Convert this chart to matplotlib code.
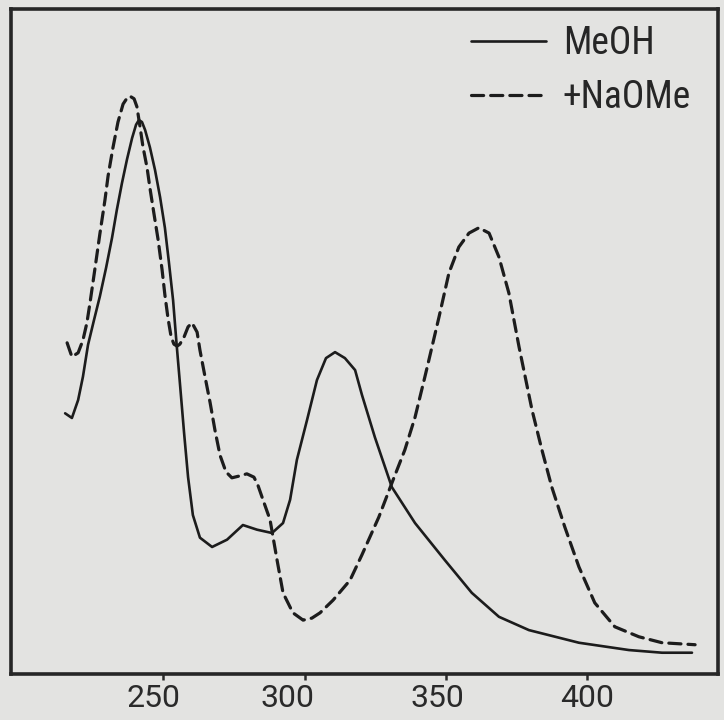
import matplotlib
matplotlib.use("Agg")
import matplotlib.pyplot as plt
from matplotlib.transforms import ScaledTranslation

# UV absorption spectra (wavelength in nm, relative absorbance)
meoh_nm = [215.2, 217.6, 219.8, 221.5, 223.3, 225.4, 227.5, 229.7, 231.8, 233.5,
           235.3, 237.1, 238.9, 240.3, 241.3, 242.4, 243.5, 245.2, 247.0, 248.8,
           250.5, 251.9, 253.4, 254.6, 255.8, 257.3, 258.7, 260.4, 262.9, 267.2,
           272.5, 278.1, 283.1, 288.4, 292.3, 294.8, 297.2, 300.8, 304.3, 307.5,
           310.7, 314.2, 317.8, 320.2, 324.8, 330.8, 339.0, 349.6, 359.1, 368.7,
           379.3, 397.0, 414.7, 426.4, 437.0]
meoh_abs = [0.392, 0.385, 0.412, 0.447, 0.495, 0.532, 0.568, 0.611, 0.656, 0.698,
            0.738, 0.774, 0.806, 0.826, 0.833, 0.830, 0.818, 0.792, 0.758, 0.717,
            0.671, 0.620, 0.562, 0.498, 0.438, 0.362, 0.296, 0.239, 0.205, 0.191,
            0.202, 0.224, 0.217, 0.212, 0.227, 0.262, 0.322, 0.382, 0.442, 0.475,
            0.484, 0.475, 0.457, 0.420, 0.356, 0.281, 0.227, 0.171, 0.122, 0.086,
            0.066, 0.047, 0.036, 0.032, 0.032]

naome_nm = [215.9, 217.6, 219.8, 221.5, 222.9, 224.0, 225.8, 227.5, 229.3, 230.4,
            232.1, 233.9, 235.7, 237.1, 238.1, 239.6, 240.6, 241.7, 242.7, 244.2,
            245.2, 246.6, 248.1, 249.5, 250.5, 251.6, 252.7, 253.7, 254.8, 255.8,
            257.3, 258.7, 260.1, 261.9, 262.9, 264.7, 266.5, 268.2, 270.0, 272.1,
            274.2, 277.1, 279.5, 282.0, 283.4, 285.2, 287.7, 290.2, 292.3, 295.8,
            299.4, 302.5, 305.4, 310.0, 316.0, 320.2, 326.2, 330.8, 335.4, 339.0,
            342.5, 343.9, 347.5, 351.0, 354.5, 358.1, 361.6, 365.2, 368.7, 372.2,
            375.8, 380.4, 383.9, 387.4, 392.0, 397.0, 402.6, 409.7, 418.2, 426.4,
            438.1]
naome_abs = [0.498, 0.477, 0.483, 0.502, 0.528, 0.558, 0.611, 0.662, 0.713, 0.749,
             0.791, 0.830, 0.857, 0.866, 0.869, 0.865, 0.853, 0.823, 0.794, 0.761,
             0.731, 0.693, 0.653, 0.608, 0.570, 0.535, 0.507, 0.496, 0.493, 0.496,
             0.507, 0.522, 0.528, 0.514, 0.487, 0.447, 0.408, 0.367, 0.329, 0.304,
             0.295, 0.298, 0.301, 0.296, 0.284, 0.262, 0.232, 0.171, 0.122, 0.092,
             0.081, 0.084, 0.092, 0.111, 0.141, 0.179, 0.236, 0.287, 0.337, 0.386,
             0.447, 0.472, 0.537, 0.603, 0.642, 0.663, 0.671, 0.663, 0.627, 0.573,
             0.492, 0.397, 0.337, 0.281, 0.221, 0.161, 0.107, 0.071, 0.056, 0.047,
             0.044]

series_labels = ["MeOH", "+NaOMe"]
tick_values = [250, 300, 350, 400]
tick_labels = ["250", "300", "350", "400"]

paper = "#e3e3e1"
ink = "#1c1c1c"

plt.rcParams["font.family"] = ["Roboto", "Liberation Sans", "DejaVu Sans"]

fig = plt.figure(figsize=(7.24, 7.20), dpi=100, facecolor=paper)
ax = fig.add_axes([0.0152, 0.0639, 0.9765, 0.9236], facecolor=paper)

ax.plot(meoh_nm, meoh_abs, color=ink, lw=1.9, solid_capstyle="round",
        solid_joinstyle="round", label=series_labels[0])
ax.plot(naome_nm, naome_abs, color=ink, lw=2.3, linestyle=(0, (3.8, 2.2)),
        dash_capstyle="round", dash_joinstyle="round", label=series_labels[1])

ax.set_xlim(196.05, 446.2)
ax.set_ylim(0, 1)

ax.set_yticks([])
ax.set_xticks(tick_values)
ax.set_xticklabels(tick_labels, fontsize=23, color="#2a2a2a")
ax.tick_params(axis="x", direction="out", length=4.5, width=1.8,
               color="#2a2a2a", pad=3)

# hand-lettered numbers sit slightly left of their tick marks
label_shift_px = [-10, -17, -9, 0]
for lab, dx in zip(ax.get_xticklabels(), label_shift_px):
    lab.set_transform(lab.get_transform() +
                      ScaledTranslation(dx / 100, 0, fig.dpi_scale_trans))

for sp in ax.spines.values():
    sp.set_linewidth(2.6)
    sp.set_color("#262626")

leg = ax.legend(loc="upper right", bbox_to_anchor=(691 / 724, 1 - 25 / 720),
                bbox_transform=fig.transFigure, frameon=False,
                prop={"family": ["Roboto Condensed", "Liberation Sans"],
                      "size": 27},
                handlelength=2.0, handletextpad=0.45,
                labelspacing=0.45, borderpad=0, borderaxespad=0)
for t in leg.get_texts():
    t.set_color("#262626")

fig.savefig("out.png", dpi=100, facecolor=paper)
